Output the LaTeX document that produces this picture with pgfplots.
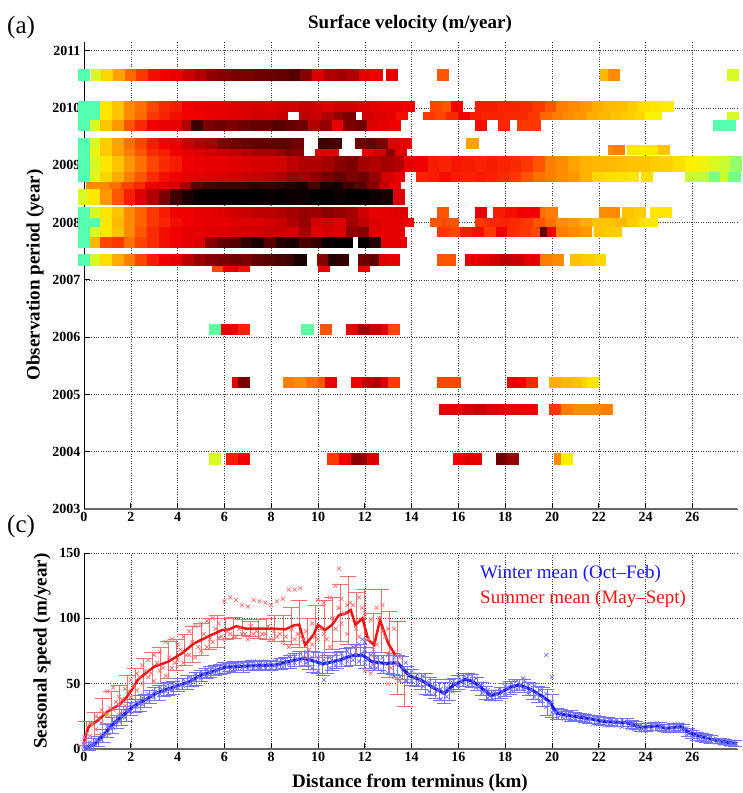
\documentclass[border=0pt]{standalone}
\usepackage{pgfplots}
\pgfplotsset{compat=1.18}
\usepackage{fontspec}
\setmainfont{Liberation Serif}
\definecolor{wline}{RGB}{25,25,245}
\definecolor{wpts}{RGB}{115,115,255}
\definecolor{sline}{RGB}{245,20,20}
\definecolor{spts}{RGB}{255,110,110}
\newcommand\tickfont{\fontsize{14bp}{16bp}\selectfont\bfseries}
\newcommand\labfont{\fontsize{19bp}{22bp}\selectfont\bfseries}
\newcommand\legfont{\fontsize{19bp}{22bp}\selectfont}
\pgfdeclareplotmark{cell}{\pgfpathrectangle{\pgfpoint{-6.1bp}{-\pgfplotmarksize}}{\pgfpoint{12.2bp}{2*\pgfplotmarksize}}\pgfusepathqfill}
\pgfplotsset{
 cellrow/.style={scatter, only marks, mark=cell, mark size=#1, point meta=explicit, scatter/use mapped color={fill=mapped color, draw=none}},
 ebar/.style 2 args={only marks, mark=*, mark size=0.01pt, mark options={draw=none, fill=none}, error bars/.cd, y dir=both, y explicit, error bar style={#1, line width=0.7pt}, error mark=-, error mark options={#1, rotate=90, mark size=#2, line width=0.7pt}},
 wx/.style={only marks, mark=x, mark size=2.8bp, wpts, mark options={line width=0.7pt}},
 sx/.style={only marks, mark=x, mark size=2.8bp, spts, mark options={line width=0.7pt}},
 common/.style={x=23.4bp, xmin=0, xmax=27.9, axis x line*=bottom, axis y line*=left, xtick={0,2,...,26},
   grid=major, grid style={dotted, black!75, line width=0.6pt}, tick align=inside, major tick length=6bp,
   tick style={black, line width=0.7pt}, x axis line style={-, line width=2.5bp, black!60},
   y axis line style={-, line width=0.8pt, black}, ticklabel style={font=\tickfont},
   /pgf/number format/1000 sep={}, /pgf/number format/assume math mode=true, clip=false}
}
\begin{document}
\begin{tikzpicture}
\useasboundingbox (-84bp,-284bp) rectangle (659bp,509bp);
\begin{axis}[common, at={(0,0)}, anchor=south west, y=57.3bp, ymin=2003, ymax=2011.15, ytick={2003,2004,...,2011},
  colormap={vel}{rgb255(0cm)=(85,255,175); rgb255(1cm)=(190,255,60); rgb255(2cm)=(255,240,0); rgb255(3cm)=(255,195,0); rgb255(4cm)=(255,140,0); rgb255(5cm)=(255,70,0); rgb255(6cm)=(240,0,0); rgb255(7cm)=(190,0,0); rgb255(8cm)=(125,0,0); rgb255(9cm)=(60,0,0); rgb255(10cm)=(0,0,0)},
  point meta min=0, point meta max=100]
% row A
\addplot[cellrow=6bp] table[x index=0, y expr=2010.576, meta index=1, row sep=\\]{0.0 0\\0.55 14\\1.0 26\\1.5 36\\2.0 45\\2.5 52\\3.0 58\\3.5 60\\4.0 61\\4.5 67\\5.0 72\\5.5 77\\6.0 79\\6.5 80\\7.0 80\\7.5 82\\8.0 83\\8.5 84\\9.0 86\\9.5 78\\10.0 64\\10.5 72\\11.0 74\\11.5 72\\12.0 62\\12.5 60\\13.15 62\\15.35 48\\22.3 32\\22.65 40\\27.75 14\\};
% row B1
\addplot[cellrow=5.5bp] table[x index=0, y expr=2010.026, meta index=1, row sep=\\]{0.0 0\\0.45 0\\0.95 22\\1.45 30\\1.95 40\\2.45 44\\2.95 50\\3.45 54\\3.95 56\\4.45 60\\4.95 61\\5.45 62\\5.95 62\\6.45 63\\6.95 64\\7.45 65\\7.95 64\\8.45 66\\8.95 66\\9.45 68\\9.95 66\\10.45 64\\10.95 66\\11.45 66\\11.95 64\\12.45 62\\12.95 61\\13.45 61\\13.9 60\\15.05 50\\15.55 48\\15.95 60\\16.95 56\\17.45 56\\17.95 55\\18.45 55\\18.95 54\\19.45 52\\19.95 48\\20.45 42\\20.95 40\\21.45 38\\21.95 34\\22.45 32\\22.95 31\\23.45 28\\23.95 24\\24.45 22\\24.95 21\\};
% row B2
\addplot[cellrow=4.2bp] table[x index=0, y expr=2009.86, meta index=1, row sep=\\]{0.0 0\\0.45 0\\0.95 22\\1.45 30\\1.95 40\\2.45 45\\2.95 52\\3.45 55\\3.95 58\\4.45 60\\4.95 60\\5.45 61\\5.95 62\\6.45 63\\6.95 64\\7.45 66\\7.95 65\\8.45 68\\9.45 70\\9.95 68\\10.45 72\\10.95 76\\11.35 80\\12.15 66\\12.65 64\\13.15 62\\13.6 58\\14.75 52\\15.25 50\\15.75 54\\16.25 60\\16.75 56\\17.25 55\\17.75 55\\18.25 54\\18.75 54\\19.25 52\\19.75 45\\20.25 42\\20.75 40\\21.25 38\\21.75 34\\22.25 32\\22.75 30\\23.25 28\\23.75 26\\24.25 20\\24.45 19\\27.75 14\\};
% row B3
\addplot[cellrow=5.5bp] table[x index=0, y expr=2009.695, meta index=1, row sep=\\]{0.0 0\\0.5 14\\0.95 30\\1.45 38\\1.95 48\\2.45 54\\2.95 60\\3.45 61\\3.95 62\\4.45 72\\4.85 90\\5.35 80\\5.85 82\\6.35 80\\6.85 82\\7.35 84\\7.85 84\\8.35 86\\8.85 84\\9.35 82\\9.85 72\\10.35 76\\10.85 62\\11.35 80\\11.85 82\\12.35 64\\12.85 62\\13.3 60\\16.95 58\\17.95 55\\18.75 52\\19.25 52\\27.15 0\\27.6 0\\};
% row C1
\addplot[cellrow=5.5bp] table[x index=0, y expr=2009.38, meta index=1, row sep=\\]{0.0 0\\0.5 14\\0.95 28\\1.45 36\\1.95 44\\2.45 50\\2.95 56\\3.45 60\\3.95 62\\4.45 68\\4.95 72\\5.45 74\\5.95 80\\6.45 82\\6.95 83\\7.45 84\\7.85 84\\8.35 85\\8.85 84\\9.15 82\\10.25 90\\10.75 88\\11.85 82\\12.35 84\\12.75 80\\13.25 64\\13.75 62\\16.6 36\\};
% row C2
\addplot[cellrow=3.5bp] table[x index=0, y expr=2009.223, meta index=1, row sep=\\]{0.0 0\\0.5 18\\0.95 28\\1.45 36\\1.95 42\\2.45 48\\2.95 54\\3.45 56\\3.95 60\\4.45 62\\4.95 64\\5.45 66\\5.95 68\\6.45 70\\6.95 72\\7.45 74\\7.95 74\\8.45 76\\8.85 80\\9.15 78\\10.15 64\\10.65 62\\12.15 62\\12.65 66\\13.15 78\\13.55 64\\};
\addplot[cellrow=5bp] table[x index=0, y expr=2009.267, meta index=1, row sep=\\]{22.65 40\\22.85 42\\23.45 22\\23.95 21\\24.25 22\\24.8 30\\};
% row D
\addplot[cellrow=8bp] table[x index=0, y expr=2009.02, meta index=1, row sep=\\]{0.0 0\\0.5 14\\0.95 22\\1.45 30\\1.95 38\\2.45 44\\2.95 50\\3.45 54\\3.95 56\\4.45 60\\4.95 61\\5.45 62\\5.95 62\\6.45 63\\6.95 64\\7.45 65\\7.95 65\\8.45 66\\8.95 70\\9.45 72\\9.95 72\\10.45 74\\10.95 78\\11.45 80\\11.95 74\\12.45 72\\12.95 74\\13.45 72\\13.95 62\\14.45 60\\14.95 56\\15.45 55\\15.95 57\\16.45 56\\16.95 55\\17.45 56\\17.95 55\\18.45 54\\18.95 52\\19.45 48\\19.95 42\\20.45 40\\20.95 36\\21.45 33\\21.95 32\\22.45 32\\22.95 31\\23.45 30\\23.95 30\\24.45 28\\24.95 27\\25.45 24\\25.95 20\\26.45 18\\26.95 14\\27.45 12\\27.85 6\\};
% row E1
\addplot[cellrow=5bp] table[x index=0, y expr=2008.796, meta index=1, row sep=\\]{0.0 0\\0.5 16\\0.95 26\\1.45 34\\1.95 42\\2.45 48\\2.95 54\\3.45 58\\3.95 60\\4.45 62\\4.95 63\\5.45 64\\5.95 65\\6.45 66\\6.95 68\\7.45 68\\7.95 70\\8.45 72\\8.95 76\\9.45 75\\9.95 78\\10.45 82\\10.95 84\\11.45 80\\11.95 82\\12.45 76\\12.95 66\\13.45 62\\14.45 55\\14.95 56\\15.45 58\\15.95 56\\16.45 55\\16.95 56\\17.45 55\\17.95 54\\18.45 52\\18.95 48\\19.45 44\\19.95 42\\20.45 40\\20.95 38\\21.45 33\\21.95 26\\22.45 24\\22.95 23\\23.45 22\\24.05 24\\25.95 12\\26.45 10\\26.95 4\\27.45 12\\27.8 3\\};
% row E2
\addplot[cellrow=3.5bp] table[x index=0, y expr=2008.647, meta index=1, row sep=\\]{0.35 40\\0.85 40\\1.35 44\\1.85 50\\2.35 54\\2.85 60\\3.35 62\\3.85 65\\4.35 74\\4.85 85\\5.35 88\\5.85 90\\6.35 90\\6.85 90\\7.35 92\\7.85 90\\8.35 92\\8.85 94\\9.35 96\\9.85 88\\10.35 96\\10.85 96\\11.35 90\\11.85 86\\12.35 80\\12.85 70\\13.3 62\\};
% row F
\addplot[cellrow=8bp] table[x index=0, y expr=2008.447, meta index=1, row sep=\\]{0.0 14\\0.45 22\\0.95 38\\1.45 48\\1.95 56\\2.45 64\\2.95 72\\3.45 80\\3.95 90\\4.45 96\\4.95 100\\5.45 100\\5.95 100\\6.45 100\\6.95 100\\7.45 100\\7.95 99\\8.45 100\\8.95 98\\9.45 98\\9.95 100\\10.45 100\\10.95 98\\11.45 100\\11.95 100\\12.45 98\\12.95 96\\13.45 64\\};
% row G1
\addplot[cellrow=5.5bp] table[x index=0, y expr=2008.176, meta index=1, row sep=\\]{0.0 0\\0.5 14\\0.95 22\\1.45 30\\1.95 40\\2.45 46\\2.95 52\\3.45 56\\3.95 60\\4.45 60\\4.95 62\\5.45 62\\5.95 64\\6.45 66\\6.95 68\\7.45 70\\7.95 70\\8.45 72\\8.95 74\\9.45 76\\9.95 75\\10.45 78\\10.95 76\\11.45 74\\11.95 66\\12.45 62\\12.95 62\\13.45 64\\13.6 64\\15.35 48\\16.95 62\\17.75 56\\18.25 58\\18.75 60\\19.25 60\\19.75 44\\20.0 42\\22.25 40\\22.65 40\\23.25 30\\23.75 28\\24.45 22\\24.85 22\\};
% row G2
\addplot[cellrow=4.5bp] table[x index=0, y expr=2008.0, meta index=1, row sep=\\]{0.0 0\\0.45 0\\0.95 22\\1.45 32\\1.95 40\\2.45 46\\2.95 52\\3.45 55\\3.95 58\\4.45 60\\4.95 61\\5.45 62\\5.95 62\\6.45 63\\6.95 64\\7.45 64\\7.95 66\\8.45 68\\8.95 72\\9.45 76\\9.95 66\\10.45 66\\10.95 64\\11.45 74\\11.95 70\\12.45 64\\12.95 62\\13.45 62\\13.85 60\\15.05 48\\15.55 50\\15.75 48\\16.95 52\\17.45 54\\17.95 55\\18.45 54\\18.95 52\\19.45 48\\19.95 44\\20.45 40\\20.95 38\\21.45 34\\21.95 30\\22.45 30\\22.95 32\\23.45 28\\23.95 24\\24.25 22\\};
% row G3
\addplot[cellrow=5bp] table[x index=0, y expr=2007.836, meta index=1, row sep=\\]{0.0 0\\0.5 14\\0.95 22\\1.45 30\\1.95 40\\2.45 48\\2.95 54\\3.45 58\\3.95 60\\4.45 62\\4.95 62\\5.45 63\\5.95 64\\6.45 65\\6.95 66\\7.45 66\\7.95 68\\8.45 68\\8.95 66\\9.45 74\\9.95 64\\10.45 66\\10.95 64\\11.45 78\\11.95 80\\12.45 64\\12.95 62\\13.45 62\\15.35 52\\15.85 50\\16.35 56\\16.85 58\\17.35 52\\17.85 60\\18.35 54\\18.85 52\\19.35 50\\19.75 85\\20.05 60\\20.45 42\\20.95 40\\21.45 38\\22.05 30\\22.55 28\\22.75 28\\};
% row G4
\addplot[cellrow=5.5bp] table[x index=0, y expr=2007.653, meta index=1, row sep=\\]{0.0 0\\0.5 32\\0.95 50\\1.45 52\\1.95 44\\2.45 50\\2.95 54\\3.45 58\\3.95 60\\4.45 62\\4.95 64\\5.45 78\\5.95 84\\6.45 86\\6.95 92\\7.45 96\\7.95 86\\8.45 94\\8.95 96\\9.45 88\\9.95 92\\10.45 98\\10.95 100\\11.25 100\\11.95 100\\12.45 94\\12.95 62\\13.45 62\\13.55 62\\};
% row H1
\addplot[cellrow=6bp] table[x index=0, y expr=2007.347, meta index=1, row sep=\\]{0.0 0\\0.5 14\\0.95 24\\1.45 34\\1.95 42\\2.45 50\\2.95 56\\3.45 60\\3.95 62\\4.45 70\\4.95 76\\5.45 78\\5.95 80\\6.45 82\\6.95 80\\7.45 84\\7.95 86\\8.45 88\\8.95 90\\9.25 96\\10.2 78\\10.7 94\\11.05 92\\11.95 82\\12.45 84\\12.85 64\\13.25 62\\15.35 48\\15.65 48\\16.55 62\\17.05 62\\17.55 66\\18.05 70\\18.55 68\\19.05 62\\19.25 62\\19.75 42\\20.25 40\\21.05 30\\21.55 28\\22.05 26\\};
% row H2
\addplot[cellrow=3bp] table[x index=0, y expr=2007.19, meta index=1, row sep=\\]{5.75 50\\6.2 62\\6.65 66\\6.85 58\\10.25 62\\11.95 62\\};
% 2006
\addplot[cellrow=5.5bp] table[x index=0, y expr=2006.134, meta index=1, row sep=\\]{5.6 1\\6.1 62\\6.6 60\\6.85 55\\9.55 1\\10.35 48\\11.45 62\\11.95 74\\12.45 68\\12.95 62\\13.25 50\\};
% 2005
\addplot[cellrow=5.5bp] table[x index=0, y expr=2005.21, meta index=1, row sep=\\]{6.6 62\\6.85 80\\8.75 42\\9.25 40\\9.75 44\\10.25 48\\10.55 62\\11.65 60\\12.15 70\\12.65 72\\12.95 64\\13.25 52\\15.35 50\\15.85 50\\18.35 62\\18.85 60\\19.15 54\\20.15 34\\20.65 32\\21.15 30\\21.55 26\\21.75 22\\};
% 2004.7
\addplot[cellrow=5.5bp] table[x index=0, y expr=2004.738, meta index=1, row sep=\\]{15.45 62\\15.95 62\\16.45 66\\16.95 68\\17.45 64\\17.95 62\\18.45 62\\18.95 61\\19.15 60\\20.15 52\\20.65 42\\21.15 40\\21.65 40\\22.15 40\\22.35 42\\};
% 2003.9
\addplot[cellrow=6bp] table[x index=0, y expr=2003.874, meta index=1, row sep=\\]{5.6 14\\6.35 56\\6.85 60\\10.65 52\\11.15 60\\11.65 78\\12.15 76\\12.35 64\\16.05 60\\16.55 64\\16.75 62\\17.85 82\\18.35 76\\20.35 40\\20.65 20\\};
\end{axis}

\begin{axis}[common, at={(0,-240bp)}, anchor=south west, y=1.307bp, ymin=0, ymax=150, ytick={0,50,100,150}]
% summer error bars
\addplot[ebar={spts}{8bp}] table[x index=0, y index=1, y error index=2, row sep=\\]{0.1 12 9\\0.45 18 10\\0.8 25 14\\1.15 32 12\\1.5 35 14\\1.85 42 14\\2.2 50 12\\2.55 55 14\\2.9 62 12\\3.25 64 14\\3.6 68 14\\3.95 72 12\\4.3 76 12\\4.65 80 14\\5.0 84 12\\5.35 88 12\\5.7 90 12\\6.05 92 8\\6.4 93 8\\6.75 93 6\\7.1 92 6\\7.45 92 7\\7.8 92 8\\8.15 92 10\\8.5 92 10\\8.85 94 14\\9.2 96 18\\9.55 82 18\\9.9 90 20\\10.25 92 22\\10.6 96 20\\10.95 104 22\\11.3 106 26\\11.65 96 24\\12.0 100 22\\12.35 82 22\\12.7 98 24\\13.05 80 25\\13.4 70 28\\13.7 48 15\\};
% summer points
\addplot[sx] table[x index=0, y index=1, row sep=\\]{
0.0 4\\0.0 9\\0.25 10\\0.25 20\\0.5 15\\0.5 25\\0.75 20\\0.75 30\\1.0 26\\1.0 44\\1.25 30\\1.25 47\\1.5 34\\1.5 40\\1.75 33\\1.75 46\\2.0 40\\2.0 53\\2.25 45\\2.25 58\\2.5 50\\2.5 64\\2.75 55\\2.75 68\\3.0 52\\3.0 72\\3.25 60\\3.25 74\\3.5 56\\3.5 82\\3.75 62\\3.75 84\\4.0 68\\4.0 80\\4.25 66\\4.25 86\\4.5 72\\4.5 90\\4.75 70\\4.75 94\\5.0 75\\5.0 96\\5.25 78\\5.25 98\\5.5 82\\5.5 100\\5.75 85\\5.75 96\\6.0 84\\6.0 113\\6.25 88\\6.25 116\\6.5 86\\6.5 114\\6.75 88\\6.75 110\\7.0 84\\7.0 109\\7.25 88\\7.25 114\\7.5 86\\7.5 113\\7.75 88\\7.75 112\\8.0 84\\8.0 110\\8.25 86\\8.25 113\\8.5 82\\8.5 115\\8.75 78\\8.75 122\\9.0 84\\9.0 122\\9.25 86\\9.25 123\\9.5 70\\9.5 90\\9.75 80\\9.75 96\\10.0 84\\10.0 114\\10.25 88\\10.25 112\\10.5 78\\10.5 116\\10.75 92\\10.75 125\\10.9 138\\11.0 96\\11.0 115\\11.25 88\\11.25 110\\11.5 78\\11.5 110\\11.75 86\\11.75 116\\12.0 60\\12.0 104\\12.25 58\\12.25 99\\12.5 80\\12.5 108\\12.75 90\\12.75 110\\13.0 50\\13.0 92\\13.25 55\\13.25 92\\13.5 52\\13.5 70\\};
\addplot[sx] table[x index=0, y index=1, row sep=\\]{
0.125 12\\0.375 19\\0.625 24\\0.875 27\\1.125 31\\1.375 36\\1.625 38\\1.875 44\\2.125 48\\2.375 55\\2.625 60\\2.875 58\\3.125 66\\3.375 62\\3.625 70\\3.875 66\\4.125 76\\4.375 72\\4.625 82\\4.875 78\\5.125 88\\5.375 84\\5.625 92\\5.875 86\\6.125 90\\6.375 86\\6.625 92\\6.875 88\\7.125 94\\7.375 90\\7.625 88\\7.875 94\\8.125 90\\8.375 88\\8.625 86\\8.875 92\\9.125 88\\9.375 84\\9.625 76\\9.875 86\\10.125 92\\10.375 84\\10.625 100\\10.875 108\\11.125 104\\11.375 112\\11.625 92\\11.875 108\\12.125 84\\12.375 76\\12.625 100\\12.875 86\\13.125 62\\13.375 66\\};
% winter error bars
\addplot[ebar={wpts}{7bp}] table[x index=0, y index=1, y error index=2, row sep=\\]{0.2 2 3\\0.6 6 4\\1.0 14 5\\1.4 21 5\\1.8 27 6\\2.2 33 5\\2.6 37 5\\3.0 42 5\\3.4 45 5\\3.8 47 5\\4.2 50 4\\4.6 52 4\\5.0 56 4\\5.4 59 4\\5.8 61 4\\6.2 62.5 3\\6.6 63 3\\7.0 63.5 3\\7.4 64 3\\7.8 64 3\\8.2 64.3 3\\8.6 66 4\\9.0 68 5\\9.4 69 6\\9.8 67 8\\10.2 65 9\\10.6 66 6\\11.0 69 6\\11.4 71 7\\11.8 72 8\\12.2 68 6\\12.6 66 6\\13.0 65 7\\13.4 64 8\\13.8 57 6\\14.2 53 5\\14.6 50 8\\15.0 46 7\\15.4 43 8\\15.8 49 5\\16.2 53 5\\16.6 52 5\\17.0 46 5\\17.4 41 4\\17.8 43 4\\18.2 47 5\\18.6 49 4\\19.0 46 5\\19.4 42 6\\19.8 36 10\\20.2 27 4\\20.6 26 3\\21.0 25 3\\21.4 23.5 3\\21.8 22.5 3\\22.2 21 3\\22.6 20.5 3\\23.0 20.4 3\\23.4 19 3\\23.8 16.8 3\\24.2 17 3\\24.6 17.4 3\\25.0 15.8 3\\25.4 17 3\\25.8 12.5 3\\26.2 10 3\\26.6 8.2 3\\27.0 6.5 2\\27.4 5.4 2\\27.8 4.3 2\\};
\addplot[ebar={wpts}{7bp}] table[x index=0, y index=1, y error index=2, row sep=\\]{0.4 4 4\\0.8 10 5\\1.2 18 6\\1.6 24 6\\2.0 31 5\\2.4 35 6\\2.8 40 5\\3.2 43 6\\3.6 46 5\\4.0 49 5\\4.4 51 5\\4.8 54 5\\5.2 58 4\\5.6 60 4\\6.0 62 4\\6.4 63 4\\6.8 63 4\\7.2 64 4\\7.6 64 4\\8.0 64 4\\8.4 65 4\\8.8 67 5\\9.2 69 6\\9.6 68 7\\10.0 66 8\\10.4 65 7\\10.8 68 6\\11.2 70 7\\11.6 72 8\\12.0 70 8\\12.4 67 7\\12.8 65 7\\13.2 65 8\\13.6 62 9\\14.0 55 6\\14.4 52 6\\14.8 48 7\\15.2 44 7\\15.6 45 8\\16.0 51 5\\16.4 53 5\\16.8 50 5\\17.2 43 5\\17.6 41 4\\18.0 45 5\\18.4 48 5\\18.8 48 5\\19.2 44 6\\19.6 40 7\\20.0 33 9\\20.4 26.5 4\\20.8 25.5 4\\21.2 24 3\\21.6 23 3\\22.0 22 3\\22.4 21 3\\22.8 20.4 3\\23.2 20.2 3\\23.6 18 3\\24.0 16.8 3\\24.4 17.4 3\\24.8 16.2 3\\25.2 16.4 3\\25.6 16 3\\26.0 11.5 3\\26.4 9 3\\26.8 7.5 3\\27.2 6 2\\27.6 5 2\\};
% winter points
\addplot[wx] table[x index=0, y index=1, row sep=\\]{
0.0 1\\0.0 3\\0.25 2\\0.25 5\\0.5 3\\0.5 7\\0.75 7\\0.75 11\\1.0 12\\1.0 17\\1.25 16\\1.25 21\\1.5 21\\1.5 26\\1.75 24\\1.75 30\\2.0 29\\2.0 34\\2.25 32\\2.25 36\\2.5 34\\2.5 39\\2.75 37\\2.75 42\\3.0 40\\3.0 44\\3.25 42\\3.25 47\\3.5 44\\3.5 48\\3.75 45\\3.75 50\\4.0 47\\4.0 51\\4.25 48\\4.25 53\\4.5 50\\4.5 55\\4.75 52\\4.75 57\\5.0 54\\5.0 59\\5.25 56\\5.25 61\\5.5 58\\5.5 62\\5.75 60\\5.75 64\\6.0 60\\6.0 65\\6.25 61\\6.25 66\\6.5 61\\6.5 65\\6.75 62\\6.75 66\\7.0 61\\7.0 66\\7.25 62\\7.25 67\\7.5 62\\7.5 66\\7.75 62\\7.75 67\\8.0 61\\8.0 66\\8.25 63\\8.25 68\\8.5 63\\8.5 69\\8.75 65\\8.75 71\\9.0 66\\9.0 71\\9.25 67\\9.25 73\\9.5 66\\9.5 74\\9.75 62\\9.75 70\\10.0 60\\10.0 70\\10.25 53\\10.25 68\\10.5 62\\10.5 70\\10.75 64\\10.75 72\\11.0 66\\11.0 73\\11.25 67\\11.25 75\\11.5 68\\11.5 78\\11.75 67\\11.75 80\\12.0 66\\12.0 76\\12.25 63\\12.25 72\\12.5 62\\12.5 70\\12.75 60\\12.75 70\\13.0 58\\13.0 72\\13.25 56\\13.25 70\\13.5 55\\13.5 72\\13.75 52\\13.75 66\\14.0 52\\14.0 60\\14.25 50\\14.25 57\\14.5 48\\14.5 56\\14.75 44\\14.75 51\\15.0 42\\15.0 48\\15.25 38\\15.25 46\\15.5 40\\15.5 47\\15.75 44\\15.75 51\\16.0 48\\16.0 55\\16.25 50\\16.25 56\\16.5 50\\16.5 57\\16.75 47\\16.75 54\\17.0 43\\17.0 50\\17.25 39\\17.25 45\\17.5 38\\17.5 44\\17.75 40\\17.75 46\\18.0 42\\18.0 48\\18.25 45\\18.25 51\\18.5 46\\18.5 52\\18.75 46\\18.75 54\\19.0 43\\19.0 50\\19.25 40\\19.25 48\\19.5 37\\19.5 45\\19.75 32\\19.75 42\\20.0 28\\20.0 36\\20.25 24\\20.25 29\\20.5 23\\20.5 29\\20.75 23\\20.75 28\\21.0 22\\21.0 27\\21.25 21\\21.25 26\\21.5 21\\21.5 26\\21.75 19\\21.75 25\\22.0 19\\22.0 24\\22.25 18\\22.25 23\\22.5 18\\22.5 23\\22.75 18\\22.75 22\\23.0 17\\23.0 22\\23.25 16\\23.25 21\\23.5 15\\23.5 20\\23.75 14\\23.75 18\\24.0 14\\24.0 19\\24.25 15\\24.25 19\\24.5 15\\24.5 20\\24.75 14\\24.75 18\\25.0 14\\25.0 18\\25.25 15\\25.25 19\\25.5 15\\25.5 19\\25.75 11\\25.75 16\\26.0 9\\26.0 14\\26.25 8\\26.25 12\\26.5 7\\26.5 11\\26.75 6\\26.75 10\\27.0 5\\27.0 8\\27.25 4\\27.25 7\\27.5 3\\27.5 7\\27.75 3\\27.75 6\\19.75 72\\20.0 55\\18.8 53\\11.9 84\\12.0 82\\};
\addplot[wx] table[x index=0, y index=1, row sep=\\]{
0.125 1.5\\0.375 3\\0.625 6\\0.875 11\\1.125 16\\1.375 21\\1.625 25\\1.875 29\\2.125 32\\2.375 35\\2.625 38\\2.875 41\\3.125 43\\3.375 45\\3.625 46\\3.875 48\\4.125 49\\4.375 51\\4.625 53\\4.875 55\\5.125 57\\5.375 59\\5.625 60\\5.875 62\\6.125 63\\6.375 63\\6.625 64\\6.875 63\\7.125 64\\7.375 64\\7.625 64\\7.875 65\\8.125 64\\8.375 66\\8.625 66\\8.875 68\\9.125 69\\9.375 70\\9.625 68\\9.875 67\\10.125 65\\10.375 66\\10.625 67\\10.875 68\\11.125 70\\11.375 72\\11.625 72\\11.875 73\\12.125 69\\12.375 66\\12.625 66\\12.875 65\\13.125 66\\13.375 65\\13.625 62\\13.875 57\\14.125 55\\14.375 53\\14.625 50\\14.875 47\\15.125 45\\15.375 43\\15.625 45\\15.875 50\\16.125 52\\16.375 54\\16.625 52\\16.875 48\\17.125 44\\17.375 41\\17.625 42\\17.875 44\\18.125 47\\18.375 48\\18.625 49\\18.875 47\\19.125 45\\19.375 42\\19.625 39\\19.875 35\\20.125 28\\20.375 26\\20.625 26\\20.875 25\\21.125 24\\21.375 23.5\\21.625 23\\21.875 22\\22.125 21\\22.375 20.5\\22.625 20.5\\22.875 20\\23.125 20\\23.375 19\\23.625 17.5\\23.875 16.5\\24.125 17\\24.375 17.5\\24.625 17\\24.875 16\\25.125 16.5\\25.375 17\\25.625 15\\25.875 12\\26.125 10\\26.375 9\\26.625 8\\26.875 7\\27.125 6\\27.375 5\\27.625 4.5\\27.875 4\\};
% winter mean
\addplot[wline, line width=3bp, mark=none] table[x index=0, y index=1, row sep=\\]{0 0.8\\0.3 2.5\\0.5 4\\0.75 9.4\\1.0 14\\1.2 18.4\\1.6 24.7\\2.1 32.4\\2.6 37.5\\3.1 42.8\\3.5 45.5\\3.9 47.7\\4.5 51.5\\5.0 56.6\\5.6 59.9\\6.0 62.5\\7.0 63.5\\8.2 64.3\\8.7 66.8\\9.4 69.3\\9.9 66.8\\10.2 65\\10.9 68\\11.4 71.2\\11.9 71.9\\12.3 66.8\\12.9 65.5\\13.4 66\\13.9 56\\14.4 52.8\\14.9 47.2\\15.4 42.6\\15.8 49\\16.3 53.3\\16.6 52\\17.0 46.4\\17.4 40.8\\17.8 43.1\\18.2 47.2\\18.6 49\\19.1 45.6\\19.6 40\\19.9 36.2\\20.2 27.3\\20.6 26\\21.5 23.5\\22.3 20.9\\23.2 20.2\\23.8 16.6\\24.5 17.6\\24.9 15.8\\25.5 17.1\\25.9 12\\26.6 8.2\\27.3 5.6\\27.9 4.3\\};
% summer mean
\addplot[sline, line width=2.5bp, mark=none] table[x index=0, y index=1, row sep=\\]{0 5.6\\0.2 17\\0.6 22\\1.0 28.6\\1.5 33.7\\1.75 38\\2.0 44\\2.3 53\\2.5 56\\3.0 63\\3.6 66.8\\4.2 73.4\\4.7 80.8\\5.3 86\\5.9 91\\6.2 91.5\\6.5 94\\6.9 92.1\\7.6 92.1\\8.2 92\\8.6 91.5\\9.0 94.8\\9.2 95\\9.45 79.6\\9.8 87.2\\10.0 95\\10.3 91\\10.6 95\\10.9 102.5\\11.15 103.3\\11.4 106.3\\11.6 95\\11.9 100\\12.15 83.4\\12.4 79.6\\12.65 98.7\\13.0 80.8\\13.3 72\\};
\end{axis}
\node[anchor=base, font=\labfont] at (326bp,480bp) {Surface velocity (m/year)};
\node[anchor=base west, font=\fontsize{25bp}{28bp}\selectfont, inner sep=0pt] at (-77bp,475bp) {(a)};
\node[anchor=base west, font=\fontsize{25bp}{28bp}\selectfont, inner sep=0pt] at (-77bp,-23bp) {(c)};
\node[rotate=90, font=\labfont] at (-49bp,234bp) {Observation period (year)};
\node[rotate=90, font=\labfont] at (-42bp,-142bp) {Seasonal speed (m/year)};
\node[anchor=base, font=\labfont] at (326bp,-278bp) {Distance from terminus (km)};
\node[anchor=base west, font=\legfont, text=wline, inner sep=0pt] at (396bp,-69bp) {Winter mean (Oct–Feb)};
\node[anchor=base west, font=\legfont, text=sline, inner sep=0pt] at (396bp,-94bp) {Summer mean (May–Sept)};
\end{tikzpicture}
\end{document}
